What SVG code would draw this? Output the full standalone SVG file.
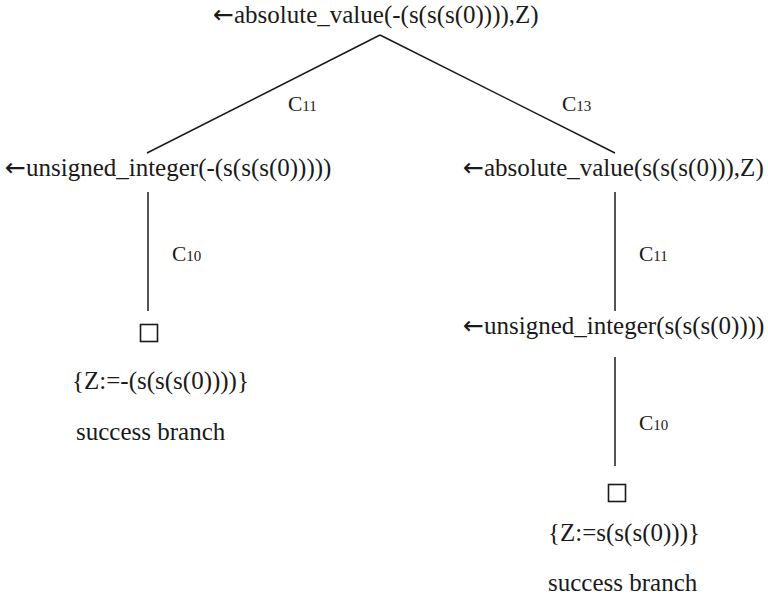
<svg xmlns="http://www.w3.org/2000/svg" width="768" height="602" viewBox="0 0 768 602">
<style>
  text { font-family: "Liberation Serif", "Times New Roman", serif; fill: #1a1a1a; }
  .t { font-size: 25px; }
  .ar { font-family: "DejaVu Sans", sans-serif; font-size: 25px; }
  .c { font-size: 21.5px; }
  .s { font-size: 15px; }
  .edge { stroke: #1a1a1a; stroke-width: 1.5; fill: none; }
  .box { stroke: #1a1a1a; stroke-width: 1.6; fill: #ffffff; }
</style>
<rect width="768" height="602" fill="#ffffff"/>
<g id="connectors">
  <line class="edge" x1="380" y1="35" x2="147" y2="153"/>
  <line class="edge" x1="380" y1="35" x2="615" y2="153"/>
  <line class="edge" x1="148" y1="192" x2="148" y2="311"/>
  <line class="edge" x1="615" y1="192" x2="615" y2="311"/>
  <line class="edge" x1="615" y1="357" x2="615" y2="466"/>
  <text x="288" y="111" class="c">C<tspan class="s">11</tspan></text>
  <text x="562" y="111" class="c">C<tspan class="s">13</tspan></text>
  <text x="172" y="261" class="c">C<tspan class="s">10</tspan></text>
  <text x="639" y="261" class="c">C<tspan class="s">11</tspan></text>
  <text x="639" y="430" class="c">C<tspan class="s">10</tspan></text>
</g>
<g id="root">
  <text x="213" y="23" class="t"><tspan class="ar">←</tspan>absolute_value(-(s(s(s(0)))),Z)</text>
</g>
<g id="left1">
  <text x="5" y="176" class="t"><tspan class="ar">←</tspan>unsigned_integer(-(s(s(s(0)))))</text>
</g>
<g id="right1">
  <text x="463" y="176" class="t"><tspan class="ar">←</tspan>absolute_value(s(s(s(0))),Z)</text>
</g>
<g id="right2">
  <text x="463" y="334" class="t"><tspan class="ar">←</tspan>unsigned_integer(s(s(s(0))))</text>
</g>
<g id="left-success">
  <rect class="box" x="140.5" y="324.5" width="17" height="17"/>
  <text x="72" y="389" class="t">{Z:=-(s(s(s(0))))}</text>
  <text x="76" y="440" class="t">success branch</text>
</g>
<g id="right-success">
  <rect class="box" x="608.5" y="484.5" width="17" height="17"/>
  <text x="548" y="541" class="t">{Z:=s(s(s(0)))}</text>
  <text x="548" y="591" class="t">success branch</text>
</g>
</svg>
